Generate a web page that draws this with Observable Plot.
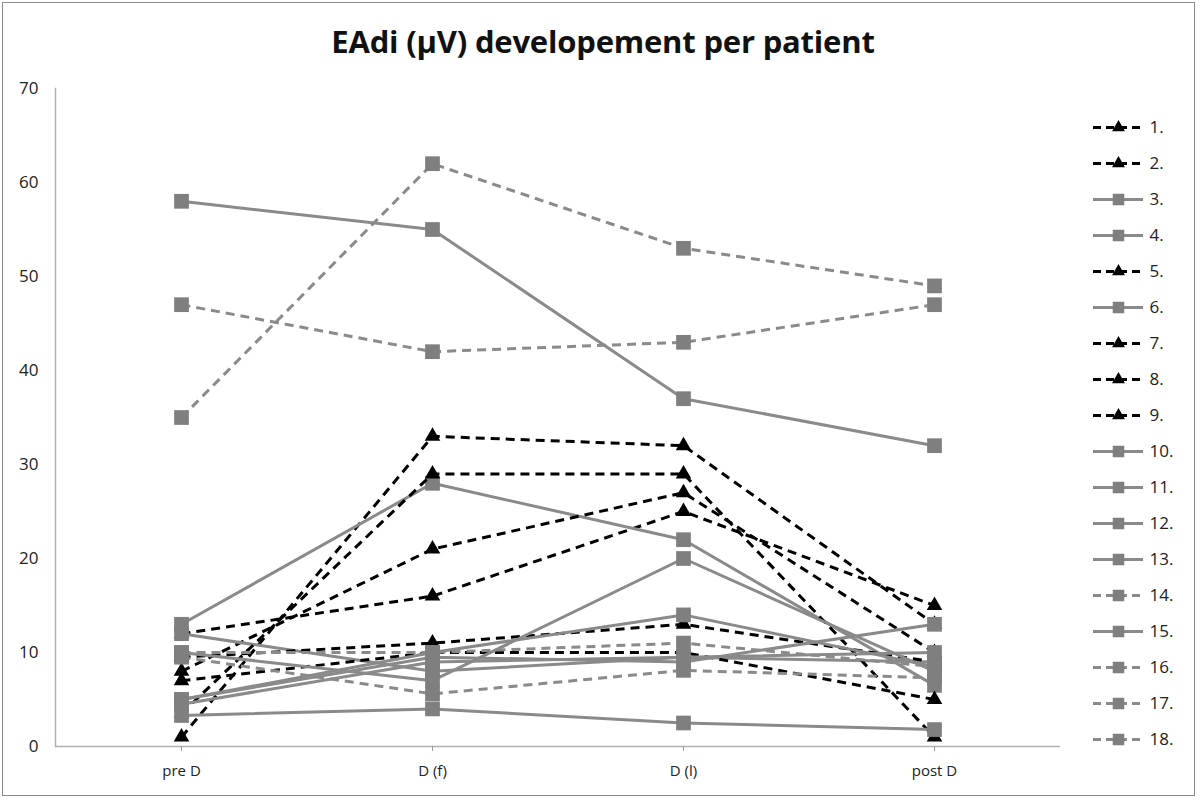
<!DOCTYPE html>
<html>
<head>
<meta charset="utf-8">
<script src="https://cdn.jsdelivr.net/npm/d3@7"></script>
<script src="https://cdn.jsdelivr.net/npm/@observablehq/plot@0.6"></script>
<style>
  html, body { margin: 0; padding: 0; background: #fff; }
  #wrap { position: relative; width: 1200px; height: 801px; overflow: hidden; font-family: "Open Sans", Lato, sans-serif; }
  #border { position: absolute; left: 2px; top: 2px; width: 1193px; height: 794px; border: 1.5px solid #8a8a8a; box-sizing: border-box; pointer-events: none; }
  #title { position: absolute; left: 0; width: 1206px; top: 20px; text-align: center; font-size: 31px; font-weight: bold; color: #111; font-family: "Open Sans", Lato, sans-serif; letter-spacing: -0.2px; }
  #chart { position: absolute; left: 0; top: 0; }
  #legend { position: absolute; left: 1088px; top: 0; }
</style>
</head>
<body>
<div id="wrap">
  <div id="chart"></div>
  <div id="legend"></div>
  <div id="title">EAdi (µV) developement per patient</div>
  <div id="border"></div>
</div>
<script>
// Categories (time points)
const categories = ["pre D", "D (f)", "D (l)", "post D"];
// Patients
const patients = ["1.", "2.", "3.", "4.", "5.", "6.", "7.", "8.", "9.", "10.", "11.", "12.", "13.", "14.", "15.", "16.", "17.", "18."];
// Series style group: "tri" = black dashed triangles, "sq" = gray solid squares, "sqd" = gray dashed squares
const styles = ["tri", "tri", "sq", "sq", "tri", "sq", "tri", "tri", "tri", "sq", "sq", "sq", "sq", "sqd", "sq", "sqd", "sqd", "sqd"];
// EAdi values (µV) per time point, one entry per patient
const preD  = [1,   12, 58, 13,  8,  12,  3.5, 9.5, 7,  10, 5,   5,   4.5, 35, 3.3, 47, 9.5, 10];
const dF    = [33,  16, 55, 28,  21, 8,   29,  11,  10, 7,  10,  9.5, 9,   62, 4,   42, 5.6, 10];
const dL    = [32,  25, 37, 22,  27, 9.5, 29,  13,  10, 20, 14,  9,   9.5, 53, 2.5, 43, 8.1, 11];
const postD = [13,  15, 32, 6.5, 10, 9,   1,   9,   5,  8,  8.5, 13,  10,  49, 1.8, 47, 7.3, 8.5];
const yTicks = [0, 10, 20, 30, 40, 50, 60, 70];

const series = [preD, dF, dL, postD];
const rows = [];
patients.forEach((p, i) => {
  categories.forEach((c, j) => rows.push({patient: p, time: c, value: series[j][i], style: styles[i]}));
});

const GRAY_LINE = "#8a8a8a";
const GRAY_FILL = "#7f7f7f";
const styleDef = {
  tri: {stroke: "black", dash: "9,6", fill: "black", symbol: "triangle", r: 5.8},
  sq:  {stroke: GRAY_LINE, dash: null, fill: GRAY_FILL, symbol: "square", r: 8.3},
  sqd: {stroke: GRAY_LINE, dash: "9,6", fill: GRAY_FILL, symbol: "square", r: 8.3}
};

const marks = [
  Plot.ruleY([0], {stroke: "#b0b0b0", strokeWidth: 1.5}),
  Plot.frame({anchor: "left", stroke: "#b0b0b0", strokeWidth: 1.5}),
  Plot.axisY({ticks: yTicks, tickSize: 0, tickPadding: 17, fontSize: 17, fill: "#222"}),
  Plot.axisX({tickSize: 5, tickPadding: 14, fontSize: 15, stroke: "#999", fill: "#222"})
];
patients.forEach((p, i) => {
  const s = styleDef[styles[i]];
  const data = rows.filter(d => d.patient === p);
  marks.push(Plot.line(data, {x: "time", y: "value", stroke: s.stroke, strokeWidth: 3, strokeDasharray: s.dash, strokeLinecap: "butt"}));
  marks.push(Plot.dot(data, {x: "time", y: "value", symbol: s.symbol, r: s.r, fill: s.fill, stroke: "none"}));
});

const chart = Plot.plot({
  width: 1200,
  height: 801,
  marginLeft: 55,
  marginRight: 140,
  marginTop: 88,
  marginBottom: 55,
  style: {background: "transparent", fontFamily: "'Open Sans', Lato, sans-serif"},
  x: {type: "point", domain: categories, padding: 0.5, label: null},
  y: {domain: [0, 70], label: null},
  marks
});
document.getElementById("chart").appendChild(chart);

// Legend drawn with its own small Plot
const legendRows = patients.map((p, i) => ({patient: p, style: styles[i]}));
const legendMarks = [];
["tri", "sq", "sqd"].forEach(k => {
  const s = styleDef[k];
  const data = legendRows.filter(d => d.style === k);
  legendMarks.push(Plot.ruleY(data, {y: "patient", x1: 0, x2: 1, stroke: s.stroke, strokeWidth: 3, strokeDasharray: s.dash ? "8,5" : null}));
  legendMarks.push(Plot.dot(data, {y: "patient", x: 0.5, symbol: s.symbol, r: s.symbol === "square" ? 6.5 : 4.8, fill: s.fill}));
});
legendMarks.push(Plot.text(legendRows, {y: "patient", x: 1, text: "patient", dx: 6, textAnchor: "start", fontSize: 17, fill: "#222"}));

const legend = Plot.plot({
  width: 110,
  height: 801,
  marginTop: 124,
  marginBottom: 60,
  marginLeft: 5,
  marginRight: 55,
  style: {background: "transparent", fontFamily: "'Open Sans', Lato, sans-serif", overflow: "visible"},
  x: {domain: [0, 1], axis: null},
  y: {type: "point", domain: patients, padding: 0, axis: null},
  marks: legendMarks
});
document.getElementById("legend").appendChild(legend);
</script>
</body>
</html>
